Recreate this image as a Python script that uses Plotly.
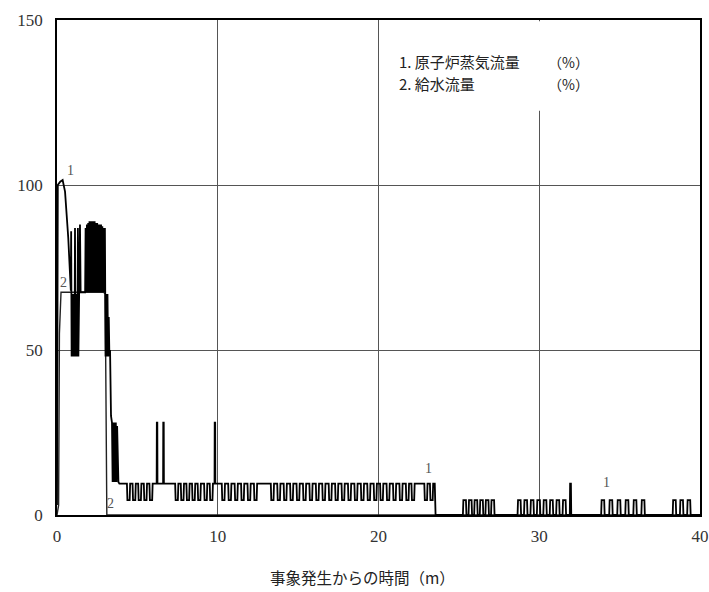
import plotly.graph_objects as go

# ---------------- data ----------------
# Series 1: 原子炉蒸気流量 (%) -- explicit key points of the early transient
s1_start_t = [0.00, 0.05, 0.20, 0.35, 0.50, 0.70, 0.86]
s1_start_v = [3, 100, 101, 101.5, 98, 84, 68]

s1_burst_t = [0.88, 0.91, 0.94, 0.97, 1.00, 1.03, 1.06, 1.09, 1.12, 1.15, 1.18, 1.21,
              1.24, 1.27, 1.30, 1.33, 1.36, 1.39, 1.43, 1.47, 1.75]
s1_burst_v = [86, 48, 67, 48, 67, 48, 67, 48, 87, 48, 67, 48,
              67, 48, 87, 48, 67, 67, 88, 67.5, 67.5]

s1_block_t = [1.78, 1.82, 1.86, 1.90, 1.94, 1.98, 2.02, 2.06, 2.10, 2.14, 2.18, 2.22,
              2.26, 2.30, 2.34, 2.38, 2.42, 2.46, 2.50, 2.54, 2.58, 2.62, 2.66, 2.70,
              2.74, 2.78, 2.82, 2.86, 2.90, 2.94, 2.98, 3.02, 3.06, 3.10, 3.14, 3.18,
              3.22, 3.26, 3.30]
s1_block_v = [87, 67.5, 88, 67.5, 88.5, 67.5, 89, 67.5, 89, 67.5, 89, 67.5,
              89, 67.5, 89, 67.5, 88.5, 67.5, 88.5, 67.5, 88, 67.5, 88, 67.5,
              88, 67.5, 87.5, 67.5, 87, 67.5, 87, 48, 67, 48, 67, 48,
              60, 48, 50]

s1_drop_t = [3.36, 3.42, 3.46, 3.50, 3.54, 3.58, 3.62, 3.66, 3.70, 3.74, 3.78, 3.82, 3.88]
s1_drop_v = [30, 28, 10, 28, 10, 28, 10, 28, 10, 27, 10, 10, 9.5]

# square dips (top -> bottom) between 3.9 and 23.5 min
dip_times = [4.35, 4.70, 5.05, 5.40, 5.75,
             7.35, 7.70, 8.05, 8.40, 8.75, 9.15, 9.50,
             10.25, 10.65, 11.05, 11.45, 11.85, 12.25,
             13.30, 13.70, 14.10, 14.50, 14.90, 15.30, 15.70, 16.10, 16.50, 16.90,
             17.30, 17.70, 18.10, 18.50, 18.90, 19.30, 19.70, 20.10, 20.50, 20.90,
             21.30, 21.70, 22.05, 22.85, 23.20]
dip_top = 9.5
dip_bottom = 4.5
spike_times = [6.20, 6.60, 9.80]
spike_level = 28
drop_time = 23.55

# square pulses (0 -> top) after the drop
pulse_times = [25.25, 25.60, 25.95, 26.30, 26.65, 27.00,
               28.65, 29.05, 29.45, 29.85, 30.25, 30.65, 31.05, 31.45,
               33.85, 34.35, 34.85, 35.35, 35.85, 36.35,
               38.30, 38.75, 39.20]
pulse_top = 4.5
late_spike_time = 31.90
late_spike_level = 9.5
end_time = 40

# Series 2: 給水流量 (%)
s2_t = [0.00, 0.10, 0.15, 0.20, 0.25, 2.90, 3.00, 3.10, 40.0]
s2_v = [0, 3, 55, 60, 67.5, 67.5, 67, 0, 0]

# curve number labels
lab_text = ["1", "2", "2", "1", "1"]
lab_t = [0.85, 0.40, 3.35, 23.1, 34.2]
lab_v = [104.5, 70.5, 3.5, 14.0, 10.0]

legend_lines = ["1. 原子炉蒸気流量", "2. 給水流量"]
legend_unit = "（%）"
x_title = "事象発生からの時間（m）"

# ---------------- build series 1 polyline ----------------
t1 = list(s1_start_t) + list(s1_burst_t) + list(s1_block_t) + list(s1_drop_t)
v1 = list(s1_start_v) + list(s1_burst_v) + list(s1_block_v) + list(s1_drop_v)

events = sorted([(t, "dip") for t in dip_times] + [(t, "spike") for t in spike_times])
for t, kind in events:
    if kind == "dip":
        t1 += [t, t + 0.03, t + 0.17, t + 0.20]
        v1 += [dip_top, dip_bottom, dip_bottom, dip_top]
    else:
        t1 += [t, t + 0.01, t + 0.04, t + 0.05]
        v1 += [dip_top, spike_level, spike_level, dip_top]
t1 += [drop_time - 0.05, drop_time]
v1 += [dip_top, 0]

pevents = sorted([(t, "pulse") for t in pulse_times] + [(late_spike_time, "spike")])
for t, kind in pevents:
    if kind == "pulse":
        t1 += [t, t + 0.03, t + 0.19, t + 0.22]
        v1 += [0, pulse_top, pulse_top, 0]
    else:
        t1 += [t, t + 0.02, t + 0.07, t + 0.09]
        v1 += [0, late_spike_level, late_spike_level, 0]
t1 += [end_time]
v1 += [0]

# ---------------- figure ----------------
# body margin removed by post_script; plot area at x 57..700, y 20..515 of the window
PL, PR, PT, PB = 57, 700, 20, 515
W, H = 709, 592

fig = go.Figure()
fig.add_trace(go.Scatter(x=s2_t, y=s2_v, mode="lines",
                         line=dict(color="#222222", width=1.4), hoverinfo="skip"))
fig.add_trace(go.Scatter(x=t1, y=v1, mode="lines",
                         line=dict(color="black", width=1.8), hoverinfo="skip"))

for txt, t, v in zip(lab_text, lab_t, lab_v):
    fig.add_annotation(x=t, y=v, text=txt, showarrow=False, xref="x", yref="y",
                       font=dict(family="Liberation Serif", size=14, color="#555555"))

# white block behind the legend text (interrupts the 30-min grid line)
fig.add_shape(type="rect", xref="x", yref="y", x0=20.8, x1=33.5, y0=122.5, y1=149.6,
              fillcolor="white", line=dict(width=0), layer="between")


def px_x(px):
    return (px - PL) / (PR - PL)


def px_y(py):
    return 1 - (py - PT) / (PB - PT)


cjk = "Noto Sans CJK JP"
for i, line in enumerate(legend_lines):
    ypix = 62 + 22 * i
    fig.add_annotation(x=px_x(397), y=px_y(ypix), xref="paper", yref="paper",
                       text=line, showarrow=False, xanchor="left", yanchor="middle",
                       font=dict(family=cjk, size=15, color="#222222"))
    fig.add_annotation(x=px_x(568), y=px_y(ypix), xref="paper", yref="paper",
                       text=legend_unit, showarrow=False, xanchor="center", yanchor="middle",
                       font=dict(family=cjk, size=14, color="#222222"))

fig.add_annotation(x=px_x(362), y=px_y(577), xref="paper", yref="paper",
                   text=x_title, showarrow=False, xanchor="center", yanchor="middle",
                   font=dict(family=cjk, size=15.5, color="#222222"))

axis_common = dict(showline=True, linecolor="black", linewidth=1.5, mirror=True,
                   showgrid=True, gridcolor="#555555", gridwidth=1, zeroline=False,
                   automargin=False, ticks="",
                   tickfont=dict(family="Liberation Serif", size=17, color="#333333"))
fig.update_xaxes(range=[0, 40], dtick=10, tick0=0, ticklabelstandoff=5, **axis_common)
fig.update_yaxes(range=[0, 150], dtick=50, tick0=0, ticklabelstandoff=9, **axis_common)

fig.update_layout(width=W, height=H,
                  margin=dict(l=PL, r=W - PR, t=PT, b=H - PB, autoexpand=False),
                  paper_bgcolor="white", plot_bgcolor="white", showlegend=False)

fig.write_html("out.html", config={"displayModeBar": False},
               post_script="document.body.style.margin='0';document.body.style.overflow='hidden';")
